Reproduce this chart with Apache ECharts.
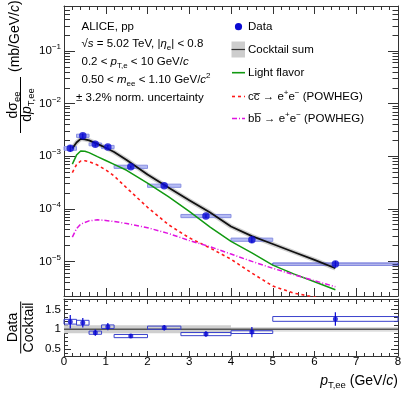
<!DOCTYPE html>
<html><head><meta charset="utf-8">
<script src="https://cdn.jsdelivr.net/npm/echarts@6/dist/echarts.min.js"></script>
<style>html,body{margin:0;padding:0;background:#fff}#c{width:407px;height:396px}</style>
</head><body><div id="c"></div>
<script>
// ---------- data ----------
const binLo = [0, 0.3, 0.6, 0.9, 1.2, 2.0, 2.8, 4.0, 5.0];
const binHi = [0.3, 0.6, 0.9, 1.2, 2.0, 2.8, 4.0, 5.0, 8.0];
const dataX = [0.15, 0.45, 0.75, 1.05, 1.6, 2.4, 3.4, 4.5, 6.5];
const dataY = [1.41e-3, 2.45e-3, 1.68e-3, 1.50e-3, 6.3e-4, 2.75e-4, 7.3e-5, 2.59e-5, 8.9e-6];
const dataStatRel = [0.14, 0.10, 0.09, 0.085, 0.05, 0.07, 0.08, 0.14, 0.14];
const dataSysRel = [0.08, 0.07, 0.06, 0.07, 0.07, 0.07, 0.07, 0.07, 0.045];
const ratioY = [1.19, 1.165, 0.915, 1.065, 0.83, 1.04, 0.88, 0.93, 1.26];
const ratioStat = [0.17, 0.12, 0.08, 0.09, 0.05, 0.07, 0.07, 0.13, 0.17];
const ratioSys = [0.06, 0.06, 0.04, 0.045, 0.04, 0.04, 0.04, 0.035, 0.06];

const curveX = [0.2, 0.3, 0.4, 0.5, 0.6, 0.8, 1.0, 1.2, 1.5, 2.0, 2.5, 3.0, 3.5, 4.0, 4.5, 5.0, 5.5, 6.0, 6.5];
const cocktailSum = [1.41e-3, 1.82e-3, 2.14e-3, 2.09e-3, 2.0e-3, 1.72e-3, 1.45e-3, 1.20e-3, 8.5e-4, 4.47e-4, 2.54e-4, 1.45e-4, 8.5e-5, 4.6e-5, 3.02e-5, 2.14e-5, 1.51e-5, 1.07e-5, 7.4e-6];
const lightFlavor = [7.08e-4, 1.05e-3, 1.26e-3, 1.24e-3, 1.17e-3, 9.8e-4, 8.3e-4, 7.0e-4, 5.4e-4, 3.09e-4, 1.70e-4, 8.9e-5, 4.5e-5, 2.4e-5, 1.45e-5, 8.5e-6, 5.8e-6, 4.1e-6, 2.9e-6];
const ccbar = [4.9e-4, 6.9e-4, 8.1e-4, 8.2e-4, 7.9e-4, 6.8e-4, 5.5e-4, 4.2e-4, 2.5e-4, 1.07e-4, 5.0e-5, 2.8e-5, 1.8e-5, 1.1e-5, 6.0e-6, 3.4e-6, 2.5e-6, 2.1e-6, 1.74e-6];
const bbbar = [2.9e-5, 4.2e-5, 5.1e-5, 5.5e-5, 5.9e-5, 6.2e-5, 6.0e-5, 5.75e-5, 5.25e-5, 4.37e-5, 3.4e-5, 2.5e-5, 1.9e-5, 1.38e-5, 1.0e-5, 7.4e-6, 5.6e-6, 4.3e-6, 3.3e-6];

// cocktail uncertainty band in ratio panel: [x from, x to, relative half width]
const ratioBand = [[0, 4, 0.10], [4, 8, 0.06]];

const yLogLabels = [1e-5, 1e-4, 1e-3, 1e-2, 1e-1];
const yLogMinor = [];
[1e-6, 1e-5, 1e-4, 1e-3, 1e-2, 1e-1].forEach(d => { for (let k = 2; k <= 9; k++) yLogMinor.push(d * k); });
const yRatioLabels = [0.5, 1, 1.5];
const yRatioMinor = [0.4, 0.6, 0.7, 0.8, 0.9, 1.1, 1.2, 1.3, 1.4, 1.6, 1.7];

// ---------- layout / style ----------
const FONT = '"Liberation Sans", Arial, Helvetica, sans-serif';
const AX = '#333';
const BLUE = '#0a0ad2';
const GL = 64, GW = 334, T0 = 6, H0 = 290, T1 = 299, H1 = 57;
const Y0MIN = 2.2e-6, Y0MAX = 0.717, Y1MIN = 0.33, Y1MAX = 1.76;

function st(size, extra) { return Object.assign({ fontSize: size, fontFamily: FONT, fill: '#000', color: '#000' }, extra || {}); }

function xAx(grid, pos, major, minor, labels) {
  return {
    type: 'value', gridIndex: grid, position: pos, min: 0, max: 8, interval: 1,
    axisLine: { show: true, onZero: false, lineStyle: { color: AX, width: 1 } },
    axisTick: { show: true, inside: true, length: major, lineStyle: { color: AX } },
    minorTick: { show: true, splitNumber: 5, length: minor, lineStyle: { color: AX } },
    axisLabel: { show: labels, margin: 0, color: '#000', fontSize: 11.5, fontFamily: FONT },
    splitLine: { show: false }, minorSplitLine: { show: false }
  };
}
function yAx(grid, pos, type, min, max, ticks, len, labels, line, fmt) {
  const a = {
    type: type, gridIndex: grid, position: pos, min: min, max: max,
    axisLine: { show: line, onZero: false, lineStyle: { color: AX, width: 1 } },
    axisTick: { show: true, inside: true, length: len, customValues: ticks, lineStyle: { color: AX } },
    axisLabel: { show: false },
    splitLine: { show: false }, minorTick: { show: false }
  };
  if (type === 'log') a.logBase = 10;
  if (labels) {
    a.axisLabel = {
      show: true, customValues: labels, margin: 3, color: '#000', fontSize: 11.5, fontFamily: FONT,
      formatter: fmt,
      rich: { sup: { fontSize: 8, fontFamily: FONT, color: '#000', padding: [0, 0, 8, 0] } }
    };
  }
  return a;
}
const logFmt = v => '10{sup|\u2212' + Math.round(-Math.log10(v)) + '}';

const pts = (xs, ys) => xs.map((x, i) => [x, ys[i]]);
const boxData = binLo.map((lo, i) => [lo, binHi[i], dataY[i], dataSysRel[i]]);
const ratioBoxData = binLo.map((lo, i) => [lo, binHi[i], ratioY[i], ratioSys[i]]);
const errData = dataX.map((x, i) => [x, dataY[i] * (1 - dataStatRel[i]), dataY[i] * (1 + dataStatRel[i])]);
const ratioErrData = dataX.map((x, i) => [x, ratioY[i] - ratioStat[i], ratioY[i] + ratioStat[i]]);

const rich = {
  i: st(11.5, { fontStyle: 'italic' }),
  sub: st(8, { padding: [7, 0, 0, 0] }),
  subi: st(8, { fontStyle: 'italic', padding: [7, 0, 0, 0] }),
  sup: st(8, { padding: [0, 0, 8, 0] })
};
const richT = {
  i: st(14, { fontStyle: 'italic' }),
  sub: st(9.5, { padding: [8, 0, 0, 0] }),
  sup: st(9.5, { padding: [0, 0, 8, 0] })
};
function txt(x, y, s, size, r, align) {
  return { type: 'text', x: x, y: y, silent: true,
    style: Object.assign(st(size), { text: s, align: align || 'left', verticalAlign: 'middle', rich: r || rich }) };
}

const graphics = [
  txt(81.5, 26.7, 'ALICE, pp', 11.5),
  txt(81.5, 44.2, '\u221A{i|s} = 5.02 TeV, |{i|\u03B7}{sub|e}| < 0.8', 11.5),
  txt(81.5, 62, '0.2 < {i|p}{sub|T,e} < 10 GeV/{i|c}', 11.5),
  txt(81.5, 80, '0.50 < {i|m}{sub|ee} < 1.10 GeV/{i|c}{sup|2}', 11.5),
  txt(76, 97.7, '\u00B1 3.2% norm. uncertainty', 11.5),
  // legend
  { type: 'circle', silent: true, shape: { cx: 238.5, cy: 26.7, r: 3.6 }, style: { fill: BLUE } },
  txt(248, 26.7, 'Data', 11.5),
  { type: 'rect', silent: true, shape: { x: 231.5, y: 41.5, width: 13.5, height: 16 }, style: { fill: '#cdcdcd' } },
  { type: 'line', silent: true, shape: { x1: 231.5, y1: 49.5, x2: 245, y2: 49.5 }, style: { stroke: '#333', lineWidth: 1.2 } },
  txt(248, 49.7, 'Cocktail sum', 11.5),
  { type: 'line', silent: true, shape: { x1: 232, y1: 72.7, x2: 245, y2: 72.7 }, style: { stroke: '#119911', lineWidth: 1.6 } },
  txt(248, 72.7, 'Light flavor', 11.5),
  { type: 'line', silent: true, shape: { x1: 232, y1: 96.5, x2: 245, y2: 96.5 }, style: { stroke: '#ff1a1a', lineWidth: 1.6, lineDash: [3, 3] } },
  txt(248, 96.5, 'cc\u0305 \u2192 e{sup|+}e{sup|\u2212} (POWHEG)', 11.5),
  { type: 'line', silent: true, shape: { x1: 232, y1: 118.5, x2: 245, y2: 118.5 }, style: { stroke: '#e014e0', lineWidth: 1.6, lineDash: [5, 2, 1, 2] } },
  txt(248, 118.5, 'bb\u0305 \u2192 e{sup|+}e{sup|\u2212} (POWHEG)', 11.5),
  // x title
  txt(398, 381, '{i|p}{sub|T,ee} (GeV/{i|c})', 14, richT, 'right'),
  // y title (top)
  { type: 'group', x: 20.5, y: 133, rotation: Math.PI / 2, silent: true, children: [
    { type: 'line', shape: { x1: 0, y1: 0, x2: 56, y2: 0 }, style: { stroke: '#000', lineWidth: 1 } },
    txt(28, -7.5, 'd\u03C3{sub|ee}', 14, richT, 'center'),
    txt(28, 7, 'd{i|p}{sub|T,ee}', 14, richT, 'center'),
    txt(61, -5, '(mb/GeV/{i|c})', 14, richT, 'left')
  ] },
  // y title (ratio)
  { type: 'group', x: 20.7, y: 327.5, rotation: Math.PI / 2, silent: true, children: [
    { type: 'line', shape: { x1: -26, y1: 0, x2: 26, y2: 0 }, style: { stroke: '#000', lineWidth: 1 } },
    txt(0, -7.5, 'Data', 14, richT, 'center'),
    txt(0, 8, 'Cocktail', 14, richT, 'center')
  ] }
];

function boxRender(mode) {
  return function (params, api) {
    const lo = api.value(0), hi = api.value(1), y = api.value(2), s = api.value(3);
    const p1 = api.coord([lo, mode === 'log' ? y * (1 + s) : y + s]);
    const p2 = api.coord([hi, mode === 'log' ? y * (1 - s) : y - s]);
    const last = params.dataIndex === binLo.length - 1;
    const filled = mode === 'log' && !last;
    return {
      type: 'rect',
      shape: { x: p1[0], y: p1[1], width: p2[0] - p1[0], height: p2[1] - p1[1] },
      style: filled ? { fill: 'rgba(150,158,238,0.7)', stroke: '#8890e2', lineWidth: 1 }
                    : { fill: 'none', stroke: '#3a42cc', lineWidth: 1 }
    };
  };
}
function errRender(params, api) {
  const a = api.coord([api.value(0), api.value(1)]);
  const b = api.coord([api.value(0), api.value(2)]);
  return { type: 'line', shape: { x1: a[0], y1: a[1], x2: b[0], y2: b[1] }, style: { stroke: BLUE, lineWidth: 1.2 } };
}
function curve(name, ys, color, width, type, z) {
  return { name: name, type: 'line', xAxisIndex: 0, yAxisIndex: 0, data: pts(curveX, ys), symbol: 'none',
    smooth: false, lineStyle: { color: color, width: width, type: type || 'solid', join: 'round' }, z: z || 4 };
}

const option = {
  animation: false,
  backgroundColor: '#fff',
  grid: [
    { left: GL, top: T0, width: GW, height: H0, containLabel: false },
    { left: GL, top: T1, width: GW, height: H1, containLabel: false }
  ],
  xAxis: [
    xAx(0, 'bottom', 8, 4, false),
    xAx(0, 'top', 8, 4, false),
    xAx(1, 'bottom', 5, 3, true),
    xAx(1, 'top', 5, 3, false)
  ],
  yAxis: [
    yAx(0, 'left', 'log', Y0MIN, Y0MAX, yLogLabels, 11, yLogLabels, true, logFmt),
    yAx(0, 'left', 'log', Y0MIN, Y0MAX, yLogMinor, 6, null, false),
    yAx(0, 'right', 'log', Y0MIN, Y0MAX, yLogLabels, 10, null, true),
    yAx(0, 'right', 'log', Y0MIN, Y0MAX, yLogMinor, 5.5, null, false),
    yAx(1, 'left', 'value', Y1MIN, Y1MAX, yRatioLabels, 7, yRatioLabels, true, v => String(v)),
    yAx(1, 'left', 'value', Y1MIN, Y1MAX, yRatioMinor, 4, null, false),
    yAx(1, 'right', 'value', Y1MIN, Y1MAX, yRatioLabels, 7, null, true),
    yAx(1, 'right', 'value', Y1MIN, Y1MAX, yRatioMinor, 4, null, false)
  ],
  series: [
    { name: 'sysbox', type: 'custom', xAxisIndex: 0, yAxisIndex: 0, renderItem: boxRender('log'), data: boxData, z: 3 },
    curve('Cocktail band', cocktailSum, 'rgba(175,175,175,0.6)', 4.5, 'solid', 2),
    curve('Cocktail sum', cocktailSum, '#111', 1.8, 'solid', 4),
    curve('Light flavor', lightFlavor, '#119911', 1.5),
    curve('ccbar', ccbar, '#ff1a1a', 1.6, [3, 3]),
    curve('bbbar', bbbar, '#e014e0', 1.5, [5, 2, 1, 2]),
    { name: 'staterr', type: 'custom', xAxisIndex: 0, yAxisIndex: 0, renderItem: errRender, data: errData, z: 5 },
    { name: 'Data', type: 'scatter', xAxisIndex: 0, yAxisIndex: 0, data: pts(dataX, dataY), symbol: 'circle', symbolSize: 7.5,
      itemStyle: { color: BLUE }, z: 6 },
    // ratio panel
    { name: 'ratioBand', type: 'custom', xAxisIndex: 2, yAxisIndex: 4, data: ratioBand, z: 1,
      renderItem: (params, api) => {
        const a = api.coord([api.value(0), 1 + api.value(2)]);
        const b = api.coord([api.value(1), 1 - api.value(2)]);
        return { type: 'rect', shape: { x: a[0], y: a[1], width: b[0] - a[0], height: b[1] - a[1] },
          style: { fill: params.dataIndex === 0 ? '#cfcfcf' : '#dedede' } };
      } },
    { name: 'ratioOne', type: 'line', xAxisIndex: 2, yAxisIndex: 4, data: [[0, 1], [8, 1]], symbol: 'none',
      lineStyle: { color: '#555', width: 1.5 }, z: 2 },
    { name: 'ratioSys', type: 'custom', xAxisIndex: 2, yAxisIndex: 4, renderItem: boxRender('lin'), data: ratioBoxData, z: 3 },
    { name: 'ratioErr', type: 'custom', xAxisIndex: 2, yAxisIndex: 4, renderItem: errRender, data: ratioErrData, z: 5 },
    { name: 'ratio', type: 'scatter', xAxisIndex: 2, yAxisIndex: 4, data: pts(dataX, ratioY), symbol: 'circle', symbolSize: 5,
      itemStyle: { color: BLUE }, z: 6 }
  ],
  graphic: graphics
};
const chart = echarts.init(document.getElementById('c'), null, { renderer: 'canvas' });
chart.setOption(option);
</script>
</body></html>
